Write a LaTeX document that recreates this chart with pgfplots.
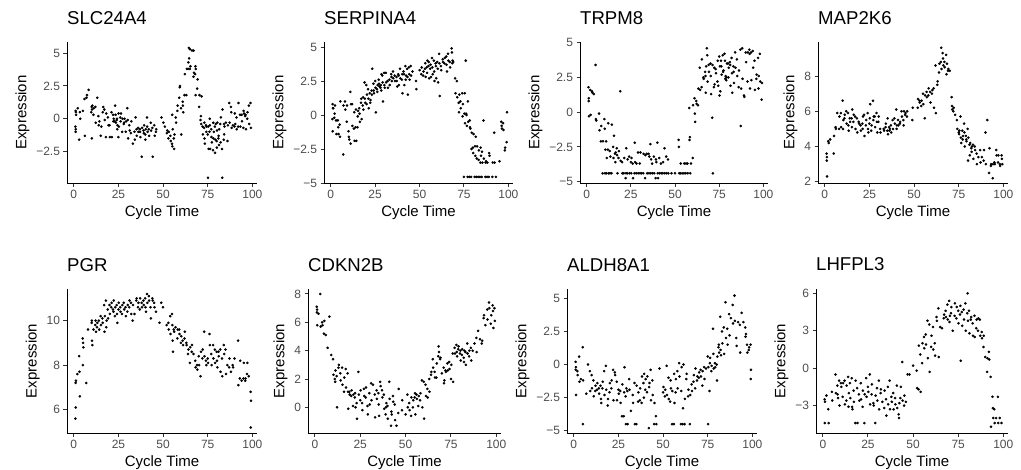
\documentclass[border=0pt]{standalone}
\usepackage{pgfplots}
\pgfplotsset{compat=1.18}
\usepackage{fontspec}
\setmainfont{Liberation Sans}
\definecolor{tickgray}{HTML}{4D4D4D}
\definecolor{tickline}{HTML}{333333}
\pgfplotsset{
  gg/.style={
    scale only axis,
    anchor=south west,
    axis x line*=bottom, axis y line*=left,
    axis line style={line width=1pt, black},
    tick align=outside,
    major tick length=3.5pt,
    every tick/.style={line width=1pt, tickline},
    xtick={0,25,50,75,100},
    xticklabels={0,25,50,75,100},
    xmin=-3.8, xmax=102.6,
    tick label style={font=\fontsize{12}{12}\selectfont, text=tickgray},
    /pgf/number format/assume math mode=true,
    label style={font=\fontsize{15}{15}\selectfont},
    xlabel={Cycle Time}, ylabel={Expression},
    title style={at={(0,1)}, anchor=base west, yshift=12pt, font=\fontsize{18.6}{18.6}\selectfont, inner sep=0pt},
  },
  pt/.style={only marks, mark=*, mark size=1.1pt, black},
}
\begin{document}
\begin{tikzpicture}
\path[use as bounding box] (0,0) rectangle (1021pt,-469pt);
% ---------- SLC24A4
\begin{axis}[gg, at={(67pt,-183pt)}, width=190pt, height=141pt,
  ymin=-4.9, ymax=5.85, ytick={-2.5,0,2.5,5}, yticklabels={−2.5,0,2.5,5}, title={SLC24A4}]
\addplot[pt] coordinates {(1.0,0.6)(1.2,0.5)(0.9,-0.6)(1.1,-0.8)(1.0,-1.0)(1.3,0.3)(2.2,0.8)(3.0,-1.6)(3.4,0.5)(3.6,0.0)(5.1,0.6)(6.2,-1.3)(6.0,1.5)(7.1,1.6)(7.4,1.8)(8.3,2.2)(10.0,0.9)(10.2,0.7)(10.4,1.0)(9.8,0.5)(10.1,-1.5)(11.2,0.8)(11.0,0.3)(12.3,-0.3)(12.1,0.9)(13.2,1.6)(14.0,-0.5)(14.3,-0.2)(13.8,0.2)(15.1,-1.3)(15.4,-0.6)(16.2,0.5)(16.5,0.9)(17.1,0.7)(17.3,-0.1)(18.0,-1.4)(18.2,0.4)(19.1,0.1)(19.4,-0.5)(20.2,-1.4)(20.0,-0.5)(21.3,-1.4)(21.1,0.5)(22.0,0.3)(22.4,0.0)(22.2,-0.2)(23.1,1.0)(23.4,0.3)(22.9,-0.2)(23.6,-0.3)(24.2,0.0)(24.0,-0.1)(24.5,-0.5)(24.3,-0.8)(25.1,0.4)(25.3,-0.6)(25.0,-1.4)(26.2,-0.2)(26.0,0.1)(26.4,0.4)(27.1,-1.0)(27.3,0.0)(28.0,-0.4)(28.2,-0.3)(28.4,0.0)(29.1,-1.0)(29.3,-0.2)(30.0,0.8)(30.2,-0.1)(30.4,-1.5)(31.1,-0.5)(31.3,-0.9)(32.0,-1.1)(32.2,-0.2)(33.1,-1.9)(34.0,-1.0)(34.2,-1.6)(35.1,-0.8)(35.3,-1.3)(34.6,0.1)(36.2,-1.0)(36.0,-0.7)(37.1,-1.0)(37.3,-1.4)(37.0,-0.8)(38.1,-2.9)(38.3,-0.7)(39.0,-0.9)(39.2,-1.1)(39.4,-0.5)(40.1,-1.6)(40.3,-0.8)(40.0,-1.2)(41.1,-0.6)(41.3,-1.0)(41.0,0.1)(42.2,-1.3)(42.0,-0.8)(43.1,-0.3)(43.3,-0.9)(44.2,-2.9)(44.0,-0.7)(45.1,-0.5)(45.3,-1.3)(46.0,-1.0)(46.2,-0.8)(49.1,0.1)(50.2,-0.3)(51.0,-0.6)(52.1,-1.1)(52.3,-0.9)(53.0,-1.5)(53.2,-1.0)(54.1,-1.3)(54.3,-1.7)(55.0,-1.9)(55.2,-2.1)(55.4,-0.8)(55.1,0.3)(56.2,-2.3)(56.0,-1.5)(56.4,-1.2)(57.1,0.1)(57.3,-0.3)(58.0,0.6)(58.2,1.0)(59.1,1.6)(59.3,2.4)(59.5,2.5)(60.0,0.8)(60.2,-1.2)(61.1,1.0)(61.3,0.5)(61.0,1.3)(62.2,3.4)(62.0,1.8)(63.1,1.8)(63.3,3.8)(64.0,3.8)(64.2,4.3)(64.4,5.4)(64.6,4.6)(65.1,5.3)(65.3,4.0)(65.0,3.8)(66.2,5.2)(67.1,5.2)(67.3,3.5)(67.0,3.2)(68.1,4.0)(68.3,3.8)(68.0,3.4)(68.2,1.8)(69.1,2.3)(69.3,3.0)(70.2,0.9)(70.4,1.8)(71.0,-0.1)(71.2,0.2)(71.4,-0.4)(71.6,1.7)(72.1,-0.6)(72.3,-1.2)(73.0,-0.7)(73.2,-1.5)(73.4,-1.9)(73.1,-0.3)(74.0,-0.5)(74.2,-1.0)(74.4,-0.6)(75.1,-4.5)(75.3,-0.6)(75.0,-1.2)(75.5,-2.3)(76.2,-0.5)(76.0,-1.0)(76.4,-2.3)(76.1,0.0)(77.1,-1.4)(77.3,-1.8)(77.0,-0.8)(78.0,-2.4)(78.2,-1.5)(78.4,-1.0)(78.1,-0.3)(79.1,-2.6)(79.3,-1.6)(79.0,-0.6)(79.5,-0.4)(80.0,-1.7)(80.2,-0.9)(80.4,-0.3)(80.1,-2.2)(81.1,-1.3)(81.3,-2.0)(81.0,-1.5)(81.5,-0.8)(82.2,-1.8)(82.0,-0.4)(82.4,0.1)(83.1,-4.5)(83.3,0.7)(83.0,-2.3)(84.0,-1.6)(84.2,-1.2)(84.4,-0.6)(84.1,-0.4)(85.2,-0.3)(86.1,-1.7)(86.3,-0.5)(87.1,1.2)(87.3,-0.3)(88.0,0.9)(88.2,0.5)(88.4,-0.7)(89.1,-0.5)(90.0,-0.6)(90.2,0.4)(90.4,-0.4)(91.1,0.1)(91.3,-0.8)(92.2,1.2)(92.0,-0.6)(93.1,0.3)(93.3,-0.6)(94.0,0.3)(94.2,-0.2)(95.1,0.6)(95.3,0.4)(95.0,-0.7)(96.2,0.3)(96.0,0.2)(96.4,-0.8)(97.1,0.0)(97.3,0.5)(98.0,1.0)(98.2,-0.4)(99.0,1.2)(99.2,-0.7)};
\end{axis}
% ---------- SERPINA4
\begin{axis}[gg, at={(324pt,-183pt)}, width=189pt, height=141pt,
  ymin=-5.0, ymax=5.37, ytick={-5,-2.5,0,2.5,5}, yticklabels={−5,−2.5,0,2.5,5}, title={SERPINA4}]
\addplot[pt] coordinates {(1,0.8)(1.2,0.5)(1.4,0.5)(0.9,-0.3)(1.1,-1.2)(2,-0.2)(2.2,0.1)(2.4,0.7)(3,-0.4)(3.2,-1.4)(4,-0.4)(4.2,-0.9)(4.4,-1.4)(5,-0.7)(5.2,-1.6)(5.4,1.0)(7,-2.9)(7.2,0.7)(8,1.0)(8.2,0.4)(9,-0.5)(9.2,0.7)(10,-1.2)(10.2,-1.6)(10.4,-1.8)(11,1.7)(11.2,-2.1)(11.4,0.8)(12,0.8)(12.2,-0.8)(13,-1.0)(13.2,0.2)(13.4,-1.9)(14,-0.9)(14.2,0.4)(14.4,-1.9)(15,-0.9)(15.2,-0.1)(15.4,0.3)(16,0.5)(16.2,0.1)(16.4,-0.5)(17,0.9)(17.2,1.2)(17.4,-0.3)(18,0.7)(18.2,1.3)(18.4,0.4)(19,2.4)(19.2,1.2)(19.4,0.9)(20,2.2)(20.2,0.8)(20.4,1.5)(21,1.9)(21.2,1.2)(21.4,0.5)(22,1.6)(22.2,0.9)(22.4,1.1)(23,1.8)(23.2,1.5)(23.4,3.4)(24,2.3)(24.2,1.8)(24.4,1.6)(25,2.5)(25.2,2.0)(25.4,0.2)(26,1.9)(26.2,1.7)(26.4,2.2)(27,2.6)(27.2,2.3)(27.4,2.1)(28,2.0)(28.2,2.2)(28.4,1.8)(28.6,3.0)(29,2.9)(29.2,2.4)(29.4,1.0)(30,3.1)(30.2,2.2)(30.4,2.0)(31,3.1)(31.2,2.4)(32,2.5)(32.2,2.0)(33,2.6)(33.2,2.2)(34,3.0)(34.2,2.8)(34.4,2.5)(35,3.2)(35.2,2.7)(36,2.9)(36.2,2.5)(37,2.8)(37.2,2.5)(37.4,2.1)(38,3.0)(38.2,2.9)(38.4,2.2)(39,3.4)(39.2,2.7)(40,2.6)(40.2,3.0)(40.4,1.6)(41,3.2)(41.2,3.0)(41.4,2.2)(42,3.6)(42.2,2.6)(42.4,2.9)(43,3.4)(43.2,2.8)(43.4,1.5)(44,3.5)(44.2,3.0)(44.4,2.6)(45,3.6)(45.2,2.9)(46,3.2)(48,2.5)(48.2,1.9)(50,3.3)(51,3.0)(51.2,3.5)(52,2.9)(52.2,3.2)(53,3.4)(53.2,3.8)(53.4,2.8)(54,3.5)(54.2,3.1)(54.4,4.0)(55,3.6)(55.2,3.9)(55.4,2.7)(56,3.4)(56.2,3.7)(56.4,2.8)(57,4.2)(57.2,3.5)(57.4,3.0)(58,4.0)(58.2,3.2)(58.4,2.5)(59,3.8)(59.2,3.6)(59.4,2.7)(60,3.9)(60.2,3.4)(60.4,2.4)(61,4.5)(61.2,3.8)(61.4,1.4)(62,3.6)(62.2,3.3)(63,4.1)(63.2,3.9)(64,3.8)(64.2,4.2)(65,4.3)(65.2,3.7)(65.4,3.2)(66,4.5)(66.2,4.0)(67,3.9)(67.2,3.5)(68,4.9)(68.2,4.6)(68.4,3.8)(68.6,4.0)(69,3.9)(70,2.7)(70.2,1.6)(71,2.5)(71.2,1.3)(72,0.9)(72.2,0.2)(72.4,1.5)(73,1.0)(73.2,0.5)(74,1.6)(74.2,-0.1)(74.4,0.8)(75,-4.55)(75.2,0.1)(75.4,1.6)(75.6,-0.6)(76,4.0)(76.2,0.1)(76.4,0.0)(76.6,-0.8)(77,-4.55)(77.2,1.0)(77.4,-0.5)(78,-4.55)(78.2,-0.4)(78.4,-0.9)(78.6,-1.0)(79,-4.55)(79.2,-2.5)(79.4,-1.3)(80,-2.4)(80.2,-2.8)(80.4,-1.4)(81,-4.55)(81.2,-2.3)(81.4,-3.0)(81.6,-1.6)(82,-4.55)(82.2,-3.2)(82.4,-2.3)(83,-4.55)(83.2,-3.3)(83.4,-2.6)(84,-4.55)(84.2,-3.5)(84.4,-2.4)(84.6,-3.0)(85,-4.55)(85.2,-2.7)(85.4,-3.5)(86,-0.4)(86.2,-3.2)(87,-4.55)(87.2,-3.5)(87.4,-3.4)(88,-4.55)(88.2,-3.5)(89,-4.55)(89.2,-2.8)(89.4,-3.0)(91,-4.55)(91.2,-3.5)(92,-1.3)(92.2,-3.5)(93,-4.55)(95,-3.4)(96,-0.5)(96.2,-0.8)(96.4,-1.0)(97,-0.6)(97.2,-1.1)(98,-2.6)(98.2,-2.4)(99,-2.0)(99.2,0.2)};
\end{axis}
% ---------- TRPM8
\begin{axis}[gg, at={(580pt,-183pt)}, width=188pt, height=141pt,
  ymin=-5.1, ymax=5.05, ytick={-5,-2.5,0,2.5,5}, yticklabels={−5,−2.5,0,2.5,5}, title={TRPM8}]
\addplot[pt] coordinates {(1,1.8)(1.2,1.0)(1.1,0.8)(1.3,-0.3)(2,1.6)(2.2,-0.2)(3,1.5)(3.2,1.4)(4,1.3)(5,3.4)(5.2,-0.5)(5.4,-0.6)(7,-0.1)(7.2,-1.3)(8,-2.1)(8.2,-1.0)(9,-4.4)(9.2,-2.1)(10,-0.5)(10.2,-1.2)(10.4,-4.4)(10.6,-2.7)(11,-2.1)(11.2,-4.4)(11.4,-3.3)(12,-2.7)(12.2,-0.8)(12.4,-4.4)(13,-2.8)(13.2,-4.4)(13.4,-3.2)(14,-4.4)(14.2,-0.9)(15,-2.5)(15.2,-3.3)(15.4,-1.7)(16,-3.0)(16.2,-3.6)(16.4,-2.9)(17,-2.6)(17.2,-3.1)(17.4,-4.4)(18,-3.3)(18.2,-2.8)(19,1.5)(19.2,-3.5)(20,-3.6)(20.2,-4.4)(21,-4.4)(21.2,-3.3)(22,-4.75)(22.2,-4.4)(22.4,-2.6)(23,-4.4)(23.2,-3.4)(24,-3.2)(24.2,-4.4)(25,-3.6)(25.2,-4.4)(25.4,-3.3)(26,-3.7)(26.2,-4.75)(27,-4.4)(27.2,-2.2)(27.4,-3.6)(28,-4.4)(28.2,-3.7)(29,-2.9)(29.2,-4.4)(30,-3.7)(30.2,-4.4)(30.4,-2.9)(31,-4.4)(32,-4.4)(32.2,-3.0)(33,-4.75)(33.2,-3.1)(34,-3.0)(34.2,-4.4)(35,-3.0)(35.2,-4.4)(35.4,-3.2)(36,-2.3)(36.2,-4.4)(36.4,-3.4)(37,-3.7)(37.2,-4.4)(38,-3.2)(38.2,-4.4)(39,-4.75)(39.2,-3.4)(39.4,-3.6)(40,-2.2)(40.2,-4.4)(40.4,-4.75)(41,-3.3)(41.2,-4.4)(42,-3.7)(42.2,-4.4)(43,-4.4)(43.2,-3.6)(44,-2.6)(44.2,-4.4)(45,-3.2)(45.2,-4.4)(46,-3.4)(46.2,-4.4)(48,-4.4)(50,-4.4)(52,-2.0)(52.2,-2.5)(52.4,-4.4)(53,-4.4)(53.2,-3.7)(54,-4.4)(55,-4.4)(55.2,-3.7)(56,-4.4)(56.2,-3.7)(57,-3.7)(57.2,-4.4)(58,0.3)(58.2,-2.0)(58.4,-1.8)(58.6,-4.4)(59,-3.7)(60,-3.3)(60.2,0.5)(61,1.0)(61.2,-0.1)(61.4,-0.7)(62,0.8)(62.2,0.6)(63,0.5)(63.2,1.7)(64,3.2)(64.2,1.6)(65,1.8)(65.2,3.8)(66,2.5)(66.2,2.4)(67,2.9)(67.2,2.6)(67.4,1.4)(67.6,3.3)(68,4.6)(68.2,4.1)(68.4,2.2)(69,3.4)(69.2,2.9)(70,3.5)(70.2,2.6)(70.4,1.3)(71,-0.4)(71.2,3.4)(71.4,-4.4)(72,1.8)(72.2,3.2)(72.4,2.0)(73,3.1)(73.2,2.8)(74,2.2)(74.2,3.7)(74.4,1.9)(75,4.0)(75.2,1.2)(75.4,3.3)(75.6,1.5)(76,3.7)(76.2,3.3)(76.4,2.7)(77,4.1)(77.2,2.9)(77.4,3.0)(78,4.2)(78.2,3.7)(78.4,2.4)(78.6,2.6)(79,2.3)(79.2,2.5)(79.4,3.5)(80,3.5)(80.2,2.5)(80.4,3.2)(81,3.6)(81.2,3.4)(81.4,1.9)(82,3.9)(82.2,2.8)(82.4,1.4)(83,3.3)(83.2,2.9)(83.4,2.1)(84,4.3)(84.2,3.2)(85,3.8)(85.2,2.6)(86,1.8)(86.2,3.0)(87,4.5)(87.2,-1.0)(87.4,1.7)(88,4.6)(88.2,2.4)(89,1.2)(89.2,1.1)(90,4.3)(90.2,3.6)(91,2.2)(91.2,4.3)(92,4.5)(92.2,4.2)(92.4,1.7)(93,4.3)(93.2,2.3)(94,4.4)(94.2,3.2)(95,3.7)(95.2,1.6)(96,2.4)(96.2,2.7)(97,3.9)(97.2,1.7)(97.4,2.6)(98,4.2)(98.2,2.2)(99,0.9)(99.2,2.1)};
\end{axis}
% ---------- MAP2K6
\begin{axis}[gg, at={(818pt,-183pt)}, width=190pt, height=141pt,
  ymin=1.93, ymax=9.93, ytick={2,4,6,8}, yticklabels={2,4,6,8}, title={MAP2K6}]
\addplot[pt] coordinates {(1,3.6)(1.2,3.4)(1.1,3.2)(1.3,2.3)(2,4.3)(2.2,4.2)(3,4.4)(5,3.6)(5.2,4.6)(6,5.1)(6.2,5.0)(7,5.9)(8,5.0)(8.2,5.7)(9,5.9)(9.2,5.1)(10,6.6)(10.2,5.0)(10.4,5.5)(11,5.6)(11.2,5.8)(12,6.0)(12.2,5.3)(13,5.9)(13.2,5.2)(13.4,4.9)(14,5.6)(14.2,5.4)(15,5.6)(15.2,5.1)(15.4,6.1)(16,5.4)(16.2,5.8)(17,5.7)(17.2,5.0)(18,5.6)(18.2,4.8)(19,5.4)(19.2,5.3)(20,5.2)(20.2,4.9)(21,5.3)(21.2,5.0)(21.4,5.7)(22,5.8)(22.2,4.6)(23,5.2)(23.2,5.5)(24,5.9)(24.2,5.0)(24.4,4.8)(25,5.3)(25.2,5.6)(25.4,6.4)(26,4.9)(26.2,5.2)(27,6.6)(27.2,5.5)(27.4,5.7)(28,5.7)(28.2,5.1)(29,5.9)(29.2,5.4)(29.4,4.8)(30,5.4)(30.2,5.7)(31,5.0)(31.2,4.8)(33,5.0)(33.2,4.9)(34,5.1)(34.2,5.3)(35,4.9)(35.2,5.6)(35.4,4.7)(36,5.1)(36.2,4.9)(36.4,5.0)(37,5.2)(37.2,4.8)(38,5.5)(38.2,5.0)(39,5.6)(39.2,5.3)(40,6.1)(40.2,5.0)(40.4,5.2)(41,5.5)(41.2,5.2)(42,5.3)(42.2,5.4)(43,6.0)(43.2,5.7)(44,5.5)(44.2,5.2)(44.4,6.0)(45,5.8)(45.2,5.9)(46,5.7)(46.2,6.0)(49,5.5)(49.2,6.2)(52,6.2)(52.2,6.7)(53,6.6)(53.2,6.5)(54,6.3)(54.2,6.6)(55,7.0)(55.2,6.4)(56,5.6)(56.2,6.9)(57,7.1)(57.2,6.8)(58,6.9)(58.2,7.3)(59,7.1)(59.2,6.5)(60,7.0)(60.2,7.2)(61,7.3)(61.2,6.2)(62,8.6)(62.2,5.9)(63,7.5)(63.2,7.7)(64,8.2)(64.2,8.7)(65,8.8)(65.2,9.6)(65.4,8.4)(66,9.3)(66.2,9.0)(66.4,8.6)(67,8.8)(67.2,8.5)(68,9.2)(68.2,8.1)(68.4,8.7)(69,8.3)(69.2,8.4)(70,8.3)(71,6.8)(71.2,6.3)(71.4,6.1)(72,6.0)(72.2,6.2)(73,5.8)(74,5.5)(74.2,5.0)(75,4.8)(75.2,4.7)(75.4,4.9)(76,5.7)(76.2,4.5)(76.4,4.2)(77,4.9)(77.2,4.4)(77.4,4.6)(78,5.3)(78.2,4.8)(78.4,4.0)(79,4.6)(79.2,4.4)(79.4,4.3)(80,5.0)(80.2,3.2)(80.4,4.5)(81,4.1)(81.2,3.5)(81.4,4.2)(82,3.9)(82.2,3.7)(82.4,4.0)(83,4.1)(83.2,3.3)(84,4.0)(84.2,3.8)(85,3.6)(85.2,3.0)(86,3.4)(87,3.8)(87.2,3.1)(88,3.4)(89,3.2)(89.2,3.8)(90,4.8)(90.2,3.0)(91,5.5)(92,2.5)(92.2,3.9)(93,2.9)(93.2,3.0)(94,2.2)(94.2,3.0)(95,3.1)(95.2,3.0)(96,3.8)(96.2,3.5)(97,3.1)(97.2,3.5)(98,3.0)(98.2,2.9)(99,3.5)(99.2,3.3)(99.4,3.0)};
\end{axis}
% ---------- PGR
\begin{axis}[gg, at={(67pt,-433pt)}, width=190pt, height=144pt,
  ymin=4.95, ymax=11.42, ytick={6,8,10}, yticklabels={6,8,10}, title={PGR}]
\addplot[pt] coordinates {(1,7.2)(1.2,7.3)(1.1,6.1)(0.9,5.6)(2,7.6)(3,8.4)(3.2,7.7)(3.4,6.6)(5,9.2)(5.2,9.0)(5.4,8.8)(5.1,8.0)(7,7.2)(8,9.6)(10,9.9)(10.2,9.1)(10.4,8.9)(10.1,10.0)(11,9.6)(12,9.8)(12.2,10.0)(12.4,9.5)(13,9.7)(13.2,9.9)(14,10.0)(14.2,9.6)(15,10.2)(15.2,9.8)(16,10.1)(16.2,9.9)(17,10.7)(17.2,9.5)(17.4,10.2)(18,10.9)(18.2,9.7)(18.4,10.0)(19,10.5)(19.2,10.1)(20,10.7)(20.2,10.3)(21,10.6)(21.2,10.8)(22,10.5)(22.2,10.4)(22.4,10.9)(23,10.2)(23.2,10.6)(24,10.7)(24.2,10.3)(24.4,9.9)(25,10.5)(25.2,10.8)(26,10.6)(26.2,10.4)(27,10.3)(27.2,10.7)(28,10.8)(28.2,10.5)(29,10.6)(29.2,10.2)(30,10.4)(30.2,10.7)(31,10.6)(31.2,10.9)(32,10.8)(32.2,10.3)(33,10.0)(33.2,10.7)(34,10.3)(35,10.9)(35.2,11.0)(36,10.6)(36.2,10.8)(37,10.5)(37.2,11.0)(38,10.8)(38.2,10.6)(39,10.9)(39.2,10.7)(40,11.0)(40.2,10.6)(40.4,10.4)(41,11.2)(41.2,10.8)(42,11.1)(42.2,10.9)(43,10.6)(43.2,10.1)(44,11.0)(44.2,10.9)(45,10.8)(45.2,10.6)(46,10.4)(48,9.9)(49,10.8)(50,10.6)(52,9.8)(53,9.9)(53.2,9.6)(54,10.2)(54.2,9.4)(55,10.3)(55.2,9.8)(55.4,9.1)(55.6,8.6)(56,9.6)(56.2,9.5)(57,9.7)(58,9.2)(58.2,9.6)(59,9.6)(59.2,9.4)(60,9.0)(60.2,9.3)(61,9.1)(61.2,8.9)(62,9.2)(62.2,9.5)(63,9.0)(63.2,8.9)(64,8.5)(64.2,8.7)(65,8.1)(65.2,8.8)(66,8.6)(66.2,8.9)(67,8.5)(68,8.2)(68.2,7.9)(69,8.0)(69.2,7.8)(70,8.4)(70.2,8.0)(71,7.5)(71.2,8.6)(72,8.3)(72.2,8.7)(73,9.5)(73.2,8.4)(74,8.2)(74.2,8.0)(75,8.3)(75.2,8.1)(76,9.4)(76.2,8.9)(77,8.5)(77.2,8.0)(78,8.9)(78.2,8.3)(79,8.7)(79.2,8.1)(80,8.6)(80.2,8.2)(80.4,7.9)(81,8.6)(81.2,8.4)(82,8.7)(82.2,7.7)(83,8.3)(83.2,7.5)(84,8.9)(84.2,8.5)(85,8.7)(85.2,7.6)(86,8.0)(87,7.9)(87.2,8.3)(88,7.7)(89,8.0)(89.2,7.9)(90,8.3)(92,9.1)(92.2,7.1)(93,7.4)(93.2,8.2)(94,7.3)(95,7.4)(95.2,8.1)(96,7.3)(96.2,7.4)(97,7.6)(97.2,8.1)(98,7.5)(99,6.8)(99.2,6.4)(99.1,5.2)};
\end{axis}
% ---------- CDKN2B
\begin{axis}[gg, at={(308pt,-433pt)}, width=193pt, height=144pt,
  ymin=-1.81, ymax=8.35, ytick={0,2,4,6,8}, yticklabels={0,2,4,6,8}, title={CDKN2B}]
\addplot[pt] coordinates {(1,7.1)(1.2,6.9)(1.1,6.7)(1.3,5.8)(2,6.6)(3,8.0)(3.2,5.7)(4,6.0)(4.2,5.8)(5,5.2)(5.2,6.1)(6,5.1)(7,4.2)(8,6.4)(9,3.7)(10,3.4)(10.2,2.3)(11,2.0)(11.2,1.8)(11.4,2.6)(12,2.2)(12.2,0.0)(13,2.8)(13.2,3.0)(14,2.4)(14.2,1.9)(15,2.8)(15.2,1.6)(16,1.1)(16.2,2.1)(17,2.7)(17.2,1.4)(18,2.4)(18.2,1.1)(18.4,-0.1)(19,1.1)(19.2,0.9)(20,0.8)(20.2,1.2)(21,0.1)(21.2,0.9)(22,0.7)(22.2,1.0)(22.4,0.0)(23,0.3)(23.2,-0.8)(24,2.5)(24.2,0.9)(25,0.5)(25.2,1.2)(26,0.3)(26.2,-0.2)(27,1.3)(27.2,0.8)(28,0.7)(28.2,1.4)(29,0.1)(29.2,-0.5)(30,1.0)(30.2,0.2)(31,1.7)(31.2,0.5)(32,1.6)(33,0.9)(33.2,-0.7)(34,1.2)(34.2,0.6)(35,1.0)(35.2,0.2)(35.4,-0.6)(36,1.8)(36.2,1.5)(37,1.2)(37.2,0.7)(38,0.9)(38.2,-0.1)(39,-0.5)(39.2,0.0)(39.4,0.3)(40,0.1)(40.2,-0.8)(41,1.8)(41.2,0.6)(42,-1.3)(42.2,-0.3)(42.4,-0.5)(43,0.8)(43.2,0.4)(44,0.2)(44.2,-0.9)(45,-1.3)(46,-0.4)(46.2,1.3)(48,-0.2)(48.2,0.5)(50,-0.5)(51,0.9)(51.2,0.0)(52,0.3)(52.2,-0.2)(53,-0.6)(53.2,0.7)(54,0.0)(54.2,0.5)(55,0.7)(55.2,1.0)(55.4,-0.5)(56,0.9)(56.2,0.6)(57,0.1)(57.2,0.8)(58,0.5)(58.2,1.0)(59,1.9)(59.2,0.0)(60,1.8)(60.2,-0.8)(61,1.6)(61.2,0.8)(62,1.3)(62.2,0.7)(63,2.0)(63.2,1.1)(64,2.3)(64.2,2.5)(65,3.4)(65.2,2.8)(66,2.5)(66.2,2.1)(67,2.1)(67.2,3.1)(68,3.6)(68.2,4.3)(68.4,3.9)(69,3.4)(69.2,3.5)(70,2.4)(71,2.8)(71.2,1.7)(71.4,1.9)(72,2.6)(72.2,2.5)(73,3.1)(73.2,2.6)(74,3.2)(74.2,2.7)(75,2.0)(75.2,3.0)(76,3.8)(76.2,1.8)(77,4.2)(77.2,3.8)(78,4.4)(78.2,3.9)(78.4,3.6)(79,4.1)(79.2,4.3)(80,3.8)(80.2,4.0)(80.4,3.3)(81,3.7)(81.2,4.1)(82,3.5)(82.2,3.2)(82.4,4.0)(83,3.9)(83.2,3.0)(84,4.5)(84.2,3.8)(85,3.6)(85.2,4.0)(86,4.2)(86.2,3.3)(87,4.0)(88,4.5)(89,4.9)(89.2,3.9)(90,5.4)(91,4.8)(92,4.5)(92.2,4.7)(93,6.3)(93.2,6.5)(94,5.8)(95,6.9)(95.2,6.2)(96,7.4)(96.2,7.0)(97,5.9)(97.2,6.5)(98,7.2)(98.2,6.8)(98.4,5.6)(99,7.0)(99.2,6.1)};
\end{axis}
% ---------- ALDH8A1
\begin{axis}[gg, at={(567pt,-433pt)}, width=190pt, height=144pt,
  ymin=-5.17, ymax=5.7, ytick={-5,-2.5,0,2.5,5}, yticklabels={−5,−2.5,0,2.5,5}, title={ALDH8A1}]
\addplot[pt] coordinates {(1,0.2)(1.2,-0.2)(1.1,-0.4)(1.3,-2.3)(2,-0.5)(2.2,-0.8)(3,0.6)(3.2,-1.3)(4,-1.1)(5,1.3)(5.2,-1.2)(5.1,-4.5)(7,-2.2)(8,0.0)(9,-0.5)(9.2,-2.0)(10,-0.8)(10.2,-1.8)(11,-1.2)(11.2,-2.4)(12,-2.0)(12.2,-1.6)(13,-1.9)(13.2,-1.4)(14,-1.8)(14.2,-2.2)(15,-1.6)(15.2,-2.6)(15.4,-2.9)(16,-1.8)(16.2,-1.3)(17,-0.5)(17.2,-2.3)(18,-0.1)(18.2,-1.9)(19,-3.1)(19.2,-2.6)(20,-2.1)(20.2,-1.4)(21,-1.8)(21.2,-1.2)(22,-0.4)(22.2,-2.7)(23,-0.6)(23.2,-0.8)(24,-1.3)(24.2,-2.7)(25,-1.9)(25.2,-2.2)(26,-2.0)(26.2,-2.9)(27,-3.9)(27.2,-1.5)(28,-3.9)(28.2,-2.1)(28.4,-0.2)(29,-2.4)(29.2,-4.5)(29.4,-1.8)(30,-2.0)(30.2,-4.5)(31,-1.1)(31.2,-1.9)(32,-3.5)(33,-2.3)(33.2,-2.9)(34,-1.4)(34.2,-4.5)(35,-4.5)(35.2,-1.6)(36,-2.8)(36.2,-2.1)(37,-2.7)(37.2,-1.8)(38,-2.9)(38.2,-0.9)(39,-1.4)(39.2,-2.5)(39.4,-0.7)(40,-1.9)(40.2,-1.1)(41,-2.1)(41.2,-0.9)(42,-4.8)(42.2,-1.7)(42.4,-1.4)(43,-0.4)(43.2,-2.7)(44,-1.2)(44.2,-2.3)(45,-4.5)(45.2,-2.9)(46,-3.9)(46.2,-4.5)(48,-0.3)(50,-2.1)(50.2,-1.7)(51,-2.4)(51.2,-1.9)(52,-0.1)(52.2,-2.3)(53,-1.0)(53.2,-2.6)(54,-2.8)(54.2,-1.2)(54.4,-1.8)(55,-4.5)(55.2,-2.0)(56,-4.5)(56.2,-0.7)(56.4,-2.9)(57,-2.1)(57.2,-1.1)(58,-0.5)(58.2,-1.8)(59,0.1)(59.2,-0.9)(60,-4.5)(60.2,-2.0)(60.4,-0.2)(61,-4.5)(61.2,-3.3)(61.4,0.0)(62,-4.5)(62.2,-2.6)(63,-1.1)(63.2,-0.7)(64,-2.4)(64.2,-1.9)(65,-4.5)(65.2,-2.3)(66,-1.5)(66.2,-2.0)(67,-1.3)(67.2,-0.8)(68,-1.8)(68.2,-0.3)(69,-1.2)(69.2,-0.9)(70,-1.0)(70.2,-0.6)(71,-0.4)(71.2,-0.9)(72,-1.6)(72.2,-0.5)(73,-0.2)(73.2,-1.1)(74,-0.3)(75,0.6)(75.2,-4.5)(75.4,-0.2)(76,-2.0)(76.2,0.1)(76.4,0.5)(77,-0.5)(77.2,-0.1)(78,2.7)(78.2,0.8)(78.4,-0.3)(79,0.1)(79.2,-0.2)(80,0.0)(80.2,-1.2)(80.4,0.6)(81,1.3)(81.2,1.5)(81.4,0.9)(82,3.6)(82.2,1.1)(82.4,0.7)(83,2.5)(83.2,1.6)(84,2.8)(84.2,0.8)(85,4.7)(85.2,2.0)(86,2.7)(86.2,1.5)(87,3.8)(87.2,2.2)(88,3.5)(89,4.5)(89.2,3.1)(90,5.2)(90.2,3.3)(91,2.0)(91.2,1.4)(92,3.2)(93,3.0)(93.2,0.9)(94,3.9)(95,3.2)(96,2.8)(96.2,2.1)(96.4,2.3)(97,1.5)(97.2,0.9)(98,1.1)(98.2,1.3)(99,1.5)(99.2,-0.4)(99.1,-1.1)};
\end{axis}
% ---------- LHFPL3
\begin{axis}[gg, at={(816pt,-433pt)}, width=192pt, height=144pt,
  ymin=-5.2, ymax=6.35, ytick={-3,0,3,6}, yticklabels={−3,0,3,6}, title={LHFPL3}]
\addplot[pt] coordinates {(1,-2.5)(1.2,-2.7)(1.1,-4.4)(2,-2.2)(3,-3.3)(3.2,-4.4)(5,-1.9)(5.2,-2.6)(7,-0.5)(7.2,-2.0)(8,-1.4)(8.2,-2.1)(8.4,-2.4)(9,-1.0)(9.2,-3.0)(10,-1.2)(10.2,-1.5)(11,-2.3)(11.2,-1.2)(12,-1.0)(12.2,-2.9)(13,-2.6)(13.2,-1.4)(14,-0.7)(14.2,-3.1)(14.4,-2.0)(15,-1.2)(15.2,-2.4)(16,-0.8)(16.2,-3.1)(16.4,-3.3)(17,-1.8)(17.2,-2.7)(18,-4.4)(18.2,-1.0)(19,-1.6)(19.2,-4.4)(20,-2.1)(20.2,-2.6)(21,-1.2)(21.2,-2.5)(22,-3.1)(22.2,-1.8)(23,-4.4)(23.2,-2.1)(24,-0.8)(24.2,-2.3)(25,-1.5)(25.2,-1.9)(26,-0.5)(26.2,-2.9)(27,-2.1)(27.2,-1.3)(28,-2.8)(28.2,-3.0)(29,-4.4)(29.2,-2.2)(30,-1.6)(30.2,-2.6)(31,-1.0)(31.2,-3.3)(32,-2.0)(32.2,-1.7)(33,-2.7)(34,-3.2)(34.2,-1.8)(35,-2.5)(35.2,-3.8)(36,-1.5)(36.2,-2.9)(37,-1.0)(37.2,-3.3)(38,-2.3)(38.2,-2.7)(39,-2.0)(39.2,-3.3)(40,-2.4)(40.2,-2.9)(41,-1.4)(41.2,-3.2)(42,-3.7)(42.2,-4.0)(42.4,-2.8)(43,-2.4)(43.2,-1.5)(44,0.5)(44.2,-2.6)(45,-3.0)(45.2,-2.2)(46,-2.7)(47,-0.5)(48,-0.5)(50,0.2)(52,-0.2)(52.2,-1.6)(53,-1.7)(53.2,1.8)(54,1.1)(54.2,-1.9)(55,0.4)(55.2,2.0)(56,2.5)(56.2,1.6)(57,2.7)(57.2,1.9)(58,3.8)(58.2,0.8)(59,3.5)(59.2,-0.3)(60,1.7)(60.2,2.6)(61,3.3)(61.2,1.5)(62,2.0)(62.2,1.0)(63,4.1)(63.2,3.8)(64,4.8)(64.2,0.9)(65,3.3)(66,3.2)(67,4.0)(67.2,4.3)(68,4.6)(68.2,4.1)(69,5.1)(69.2,3.9)(70,5.4)(70.2,3.7)(70.4,4.2)(71,4.4)(71.2,4.9)(72,3.0)(73,4.2)(73.2,5.2)(74,4.0)(74.2,4.9)(75,4.6)(75.2,3.6)(76,4.3)(76.2,5.0)(76.4,0.6)(77,4.5)(77.2,3.4)(78,4.7)(78.2,3.9)(79,5.2)(79.2,3.0)(80,4.4)(80.2,6.0)(80.4,3.8)(81,4.6)(81.2,2.8)(82,3.9)(82.2,4.1)(83,3.6)(83.2,2.6)(84,4.2)(84.2,2.5)(85,3.2)(85.2,3.9)(86,3.0)(86.2,4.0)(87,3.9)(87.2,2.6)(88,2.9)(88.2,2.4)(89,1.7)(89.2,2.6)(90,0.9)(91,-0.3)(91.2,0.8)(92,1.3)(92.2,0.7)(93,-0.7)(93.2,-4.7)(94,-2.3)(94.2,-3.2)(94.4,-4.0)(95,-3.3)(95.2,-4.4)(96,-4.0)(97,-2.3)(97.2,-4.4)(98,-4.0)(99,-4.4)};
\end{axis}
\end{tikzpicture}
\end{document}
